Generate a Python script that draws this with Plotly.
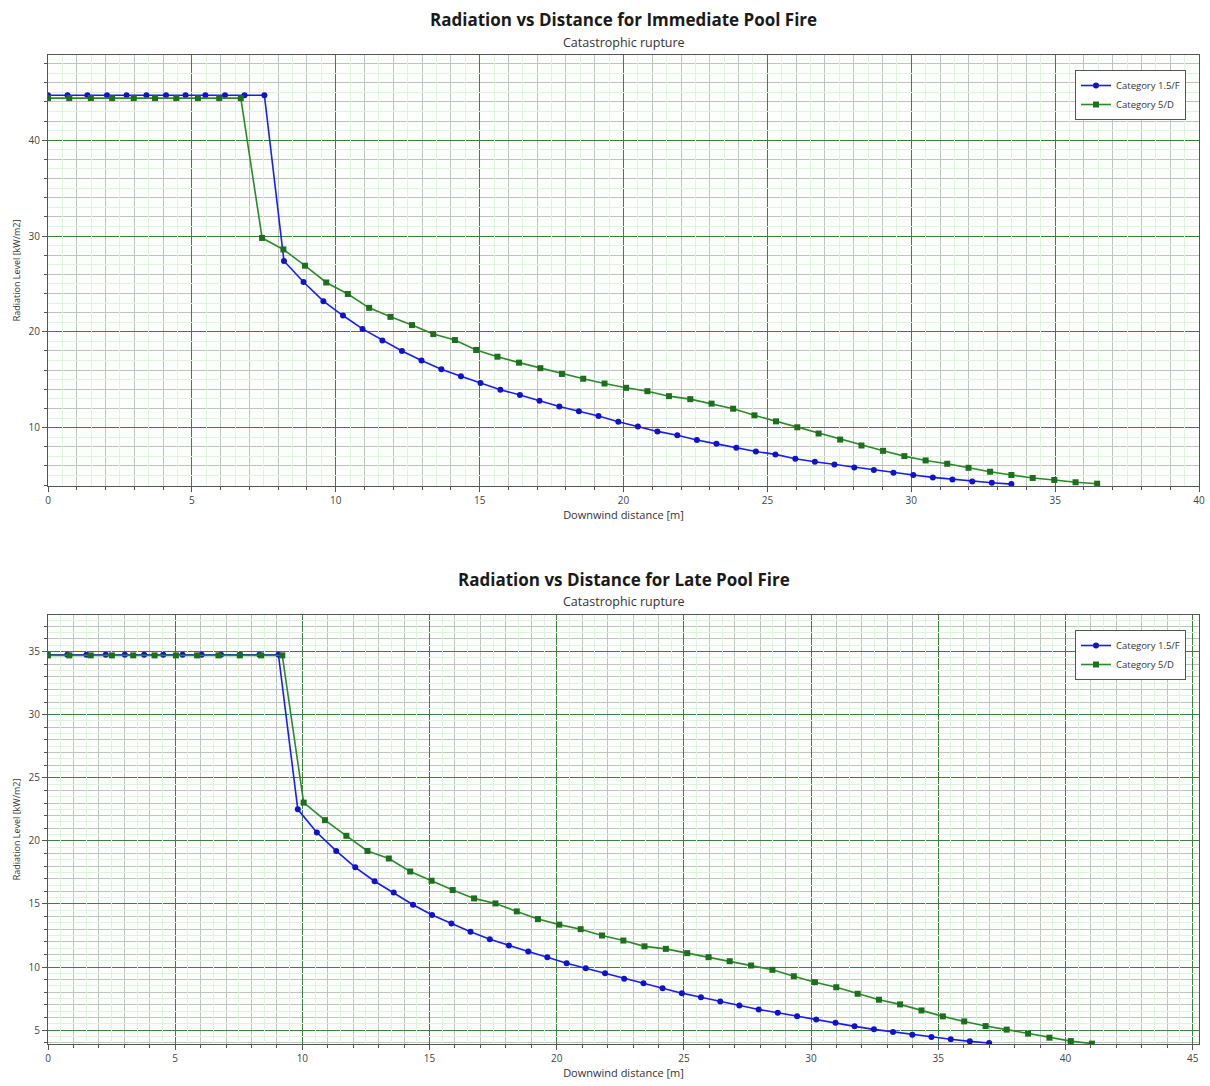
import plotly.graph_objects as go

# ---------------- data ----------------
series_names = ["Category 1.5/F", "Category 5/D"]

# Immediate pool fire
imm_x_15F = [0, 0.68, 1.37, 2.05, 2.73, 3.42, 4.10, 4.78, 5.47, 6.15, 6.83, 7.52, 8.20, 8.88,
             9.57, 10.25, 10.93, 11.62, 12.30, 12.98, 13.67, 14.35, 15.03, 15.72, 16.40, 17.08,
             17.77, 18.45, 19.13, 19.82, 20.50, 21.18, 21.87, 22.55, 23.23, 23.92, 24.60, 25.28,
             25.97, 26.65, 27.33, 28.02, 28.70, 29.38, 30.07, 30.75, 31.43, 32.12, 32.80, 33.48]
imm_y_15F = [44.7, 44.7, 44.7, 44.7, 44.7, 44.7, 44.7, 44.7, 44.7, 44.7, 44.7, 44.7,
             27.4, 25.2, 23.2, 21.7, 20.3, 19.1, 18.0, 17.0, 16.1, 15.35,
             14.65, 13.96, 13.4, 12.8, 12.2, 11.7, 11.2, 10.6, 10.1, 9.6,
             9.2, 8.7, 8.3, 7.9, 7.5, 7.2, 6.75, 6.43, 6.15, 5.84,
             5.56, 5.28, 5.04, 4.8, 4.59, 4.38, 4.24, 4.1]
imm_x_5D = [0, 0.74, 1.49, 2.23, 2.98, 3.72, 4.46, 5.21, 5.95, 6.70, 7.44, 8.18, 8.93, 9.67,
            10.42, 11.16, 11.90, 12.65, 13.39, 14.14, 14.88, 15.62, 16.37, 17.11, 17.86, 18.60,
            19.34, 20.09, 20.83, 21.58, 22.32, 23.06, 23.81, 24.55, 25.30, 26.04, 26.78, 27.53,
            28.27, 29.02, 29.76, 30.50, 31.25, 31.99, 32.74, 33.48, 34.22, 34.97, 35.71, 36.46]
imm_y_5D = [44.4, 44.4, 44.4, 44.4, 44.4, 44.4, 44.4, 44.4, 44.4, 44.4,
            29.8, 28.6, 26.9, 25.15, 23.95, 22.5, 21.56, 20.7, 19.76, 19.14,
            18.1, 17.4, 16.78, 16.2, 15.6, 15.1, 14.6, 14.15, 13.8, 13.28,
            12.97, 12.5, 11.97, 11.28, 10.65, 10.03, 9.38, 8.75, 8.13, 7.57,
            7.02, 6.57, 6.22, 5.8, 5.39, 5.05, 4.74, 4.53, 4.29, 4.14]

# Late pool fire
late_x_15F = [0, 0.76, 1.51, 2.27, 3.02, 3.78, 4.53, 5.29, 6.04, 6.80, 7.55, 8.31, 9.06, 9.82,
              10.57, 11.33, 12.08, 12.84, 13.59, 14.35, 15.10, 15.86, 16.61, 17.37, 18.12, 18.88,
              19.63, 20.39, 21.14, 21.90, 22.65, 23.41, 24.16, 24.92, 25.67, 26.43, 27.18, 27.94,
              28.69, 29.45, 30.20, 30.96, 31.71, 32.47, 33.22, 33.98, 34.73, 35.49, 36.24, 37.00]
late_y_15F = [34.75, 34.75, 34.75, 34.75, 34.75, 34.75, 34.75, 34.75, 34.75, 34.75, 34.75, 34.75, 34.75,
              22.5, 20.66, 19.2, 17.9, 16.8, 15.9, 14.94, 14.13, 13.46, 12.8,
              12.2, 11.7, 11.23, 10.78, 10.3, 9.9, 9.5, 9.07, 8.72, 8.32,
              7.93, 7.6, 7.27, 6.96, 6.64, 6.38, 6.1, 5.85, 5.59, 5.3,
              5.06, 4.85, 4.64, 4.45, 4.27, 4.11, 3.98]
late_x_5D = [0, 0.84, 1.68, 2.51, 3.35, 4.19, 5.03, 5.86, 6.70, 7.54, 8.38, 9.21, 10.05, 10.89,
             11.73, 12.56, 13.40, 14.24, 15.08, 15.91, 16.75, 17.59, 18.43, 19.26, 20.10, 20.94,
             21.78, 22.62, 23.45, 24.29, 25.13, 25.97, 26.80, 27.64, 28.48, 29.32, 30.15, 30.99,
             31.83, 32.67, 33.50, 34.34, 35.18, 36.02, 36.86, 37.69, 38.53, 39.37, 40.21, 41.04]
late_y_5D = [34.7, 34.7, 34.7, 34.7, 34.7, 34.7, 34.7, 34.7, 34.7, 34.7, 34.7, 34.7,
             23.03, 21.64, 20.4, 19.2, 18.6, 17.57, 16.84, 16.1, 15.44, 15.04,
             14.41, 13.8, 13.36, 13.0, 12.5, 12.1, 11.64, 11.44, 11.1, 10.78,
             10.46, 10.12, 9.78, 9.27, 8.8, 8.4, 7.88, 7.41, 7.04, 6.56,
             6.09, 5.69, 5.32, 5.04, 4.72, 4.4, 4.13, 3.93]

titles = ["Radiation vs Distance for Immediate Pool Fire", "Radiation vs Distance for Late Pool Fire"]
subtitle = "Catastrophic rupture"
x_title = "Downwind distance [m]"
y_title = "Radiation Level [kW/m2]"

# ---------------- style ----------------
FONT = "Open Sans, Noto Sans, DejaVu Sans, sans-serif"
BLUE = "#1a1aff"
BLUE_M = "#1212c8"
GREEN = "#2a8a2a"
GREEN_M = "#1d6e1d"
MAJOR_GRID = "#3f7f3f"
MINOR_GRID = "#bcc6bc"
LIGHT_GRID = "#def4de"
AXIS_LINE = "#555555"
TICK_FONT = dict(family=FONT, size=10, color="#444444")

OFF = 0                      # page body margin is removed by the post script below
W, H = 1210 - OFF, 1086 - OFF
ML = 48 - OFF
MR = W - (1199 - OFF)

def py(p):
    """page pixel row -> paper y"""
    return 1 - (p - OFF) / H

def px(p):
    """page pixel column -> legend x (plot-area fraction)"""
    return (p - OFF - ML) / (W - ML - MR)

fig = go.Figure()

def add_series(x, y, name, color, mcolor, symbol, xa, ya, legend):
    fig.add_trace(go.Scatter(
        x=x, y=y, name=name, mode="lines+markers",
        line=dict(color=color, width=1.6),
        marker=dict(color=mcolor, size=6, symbol=symbol),
        xaxis=xa, yaxis=ya, legend=legend))

add_series(imm_x_15F, imm_y_15F, series_names[0], BLUE, BLUE_M, "circle", "x", "y", "legend")
add_series(imm_x_5D, imm_y_5D, series_names[1], GREEN, GREEN_M, "square", "x", "y", "legend")
add_series(late_x_15F, late_y_15F, series_names[0], BLUE, BLUE_M, "circle", "x2", "y2", "legend2")
add_series(late_x_5D, late_y_5D, series_names[1], GREEN, GREEN_M, "square", "x2", "y2", "legend2")

# empty helper traces so that the fine-grid overlay axes are drawn
for xa, ya in [("x3", "y"), ("x", "y3"), ("x4", "y2"), ("x2", "y4")]:
    fig.add_trace(go.Scatter(x=[None], y=[None], xaxis=xa, yaxis=ya, showlegend=False,
                             hoverinfo="skip", mode="markers"))

top_dom = [py(486), py(55)]
bot_dom = [py(1044), py(615)]

def main_x(rng, anchor):
    return dict(range=rng, anchor=anchor, dtick=5, tick0=0, showgrid=True,
                gridcolor=MAJOR_GRID, gridwidth=1, zeroline=False, automargin=False,
                showline=True, linecolor=AXIS_LINE, linewidth=1, mirror=True,
                ticks="outside", ticklen=5, tickcolor=AXIS_LINE, tickfont=TICK_FONT,
                minor=dict(dtick=1, tick0=0, showgrid=True, gridcolor=MINOR_GRID,
                           ticks="outside", ticklen=3, tickcolor=AXIS_LINE),
                title=dict(text=x_title, font=dict(family=FONT, size=11, color="#333333"),
                           standoff=2))

def main_y(rng, anchor, domain, dtick, mdtick):
    return dict(range=rng, anchor=anchor, domain=domain, dtick=dtick, tick0=0, showgrid=True,
                gridcolor=MAJOR_GRID, gridwidth=1, zeroline=False, automargin=False,
                showline=True, linecolor=AXIS_LINE, linewidth=1, mirror=True,
                ticks="outside", ticklen=5, tickcolor=AXIS_LINE, tickfont=TICK_FONT,
                minor=dict(dtick=mdtick, tick0=0, showgrid=True, gridcolor=MINOR_GRID,
                           ticks="outside", ticklen=3, tickcolor=AXIS_LINE),
                title=dict(text=y_title, font=dict(family=FONT, size=9, color="#333333"),
                           standoff=6))

def fine(rng, over, anchor, tick0, dtick, side):
    return dict(range=rng, overlaying=over, anchor=anchor, side=side, tick0=tick0, dtick=dtick,
                showgrid=True, gridcolor=LIGHT_GRID, gridwidth=1, showticklabels=False,
                ticks="", zeroline=False, showline=False, automargin=False)

XR1, XR2 = [0, 40], [0, 45.25]
YR1, YR2 = [3.9, 48.9], [3.9, 37.9]

legend_style = dict(xanchor="left", yanchor="top",
                    bgcolor="white", bordercolor="#555555", borderwidth=1,
                    font=dict(family=FONT, size=9.5, color="#333333"),
                    itemwidth=30, tracegroupgap=0)

fig.update_layout(
    width=W, height=H,
    margin=dict(l=ML, r=MR, t=0, b=0, autoexpand=False),
    paper_bgcolor="white", plot_bgcolor="#fcfffc",
    font=dict(family=FONT, size=10, color="#333333"),
    xaxis=main_x(XR1, "y"),
    yaxis=main_y(YR1, "x", top_dom, 10, 2),
    xaxis2=main_x(XR2, "y2"),
    yaxis2=main_y(YR2, "x2", bot_dom, 5, 1),
    xaxis3=fine(XR1, "x", "y", 0.5, 1, "bottom"),
    yaxis3=fine(YR1, "y", "x", 1, 2, "left"),
    xaxis4=fine(XR2, "x2", "y2", 0.5, 1, "bottom"),
    yaxis4=fine(YR2, "y2", "x2", 0.5, 1, "left"),
    legend=dict(x=px(1075), y=py(70), **legend_style),
    legend2=dict(x=px(1075), y=py(630), **legend_style),
    showlegend=True,
)

for title, ty, sy in [(titles[0], 20, 42), (titles[1], 579, 601)]:
    fig.add_annotation(text="<b>" + title + "</b>", xref="paper", yref="paper", x=0.5, y=py(ty),
                       xanchor="center", yanchor="middle", showarrow=False,
                       font=dict(family=FONT, size=17, color="#1a1a1a"))
    fig.add_annotation(text=subtitle, xref="paper", yref="paper", x=0.5, y=py(sy),
                       xanchor="center", yanchor="middle", showarrow=False,
                       font=dict(family=FONT, size=12.5, color="#333333"))

fig.write_html(
    "out.html",
    config={"displayModeBar": False},
    post_script="document.body.style.margin='0';document.body.style.overflow='hidden';",
)
